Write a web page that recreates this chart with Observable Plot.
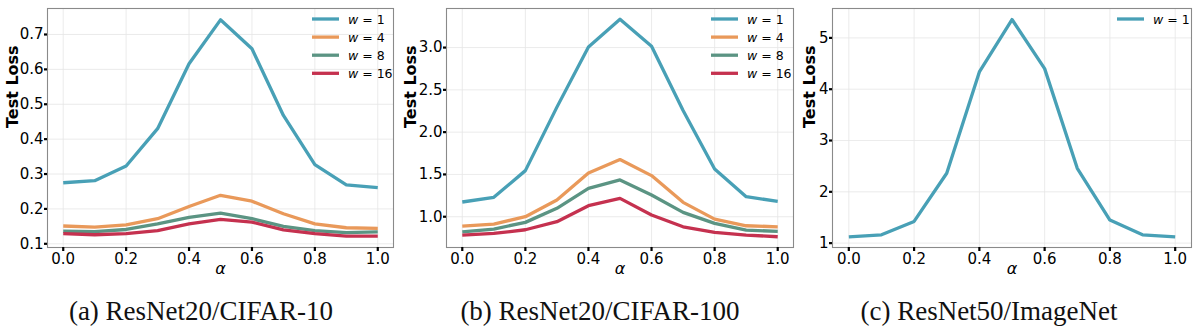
<!DOCTYPE html>
<html><head><meta charset="utf-8">
<script src="https://cdn.jsdelivr.net/npm/d3@7"></script>
<script src="https://cdn.jsdelivr.net/npm/@observablehq/plot@0.6"></script>
<style>
body{margin:0;background:#fff;}
#wrap{position:relative;width:1200px;height:330px;overflow:hidden;background:#fff;}
.panel{position:absolute;top:0;}
.legend{position:absolute;top:0;pointer-events:none;}
.cap{position:absolute;top:298px;font-family:"Liberation Serif","DejaVu Serif",serif;font-size:27px;line-height:1;white-space:nowrap;transform:translateX(-50%);color:#111;}
</style></head><body><div id="wrap"></div>
<script>
// ---- data ----
const alpha = [0.0, 0.1, 0.2, 0.3, 0.4, 0.5, 0.6, 0.7, 0.8, 0.9, 1.0];
const seriesLabels = ["w = 1", "w = 4", "w = 8", "w = 16"];
const seriesColors = ["#48a0b6", "#e9995a", "#5b9483", "#c5314f"];

const cifar10_w1  = [0.275, 0.281, 0.323, 0.430, 0.616, 0.742, 0.659, 0.468, 0.327, 0.269, 0.261];
const cifar10_w4  = [0.151, 0.148, 0.154, 0.172, 0.207, 0.239, 0.222, 0.186, 0.157, 0.146, 0.144];
const cifar10_w8  = [0.136, 0.135, 0.141, 0.157, 0.176, 0.188, 0.172, 0.150, 0.138, 0.132, 0.134];
const cifar10_w16 = [0.129, 0.126, 0.129, 0.138, 0.157, 0.170, 0.162, 0.140, 0.129, 0.122, 0.122];

const cifar100_w1  = [1.174, 1.229, 1.545, 2.296, 3.008, 3.336, 3.016, 2.257, 1.565, 1.237, 1.182];
const cifar100_w4  = [0.889, 0.913, 1.000, 1.198, 1.518, 1.676, 1.486, 1.170, 0.972, 0.893, 0.881];
const cifar100_w8  = [0.822, 0.854, 0.933, 1.099, 1.336, 1.435, 1.257, 1.051, 0.921, 0.842, 0.826];
const cifar100_w16 = [0.783, 0.802, 0.846, 0.941, 1.130, 1.217, 1.020, 0.881, 0.814, 0.783, 0.763];

const imagenet_w1 = [1.124, 1.163, 1.423, 2.362, 4.336, 5.358, 4.401, 2.459, 1.450, 1.163, 1.124];

const xTicks = [0.0, 0.2, 0.4, 0.6, 0.8, 1.0];
const yTicksA = [0.1, 0.2, 0.3, 0.4, 0.5, 0.6, 0.7];
const yTicksB = [1.0, 1.5, 2.0, 2.5, 3.0];
const yTicksC = [1, 2, 3, 4, 5];
const captions = ["(a) ResNet20/CIFAR-10", "(b) ResNet20/CIFAR-100", "(c) ResNet50/ImageNet"];
const xLabel = "α";
const yLabel = "Test Loss";

// ---- layout ----
const panels = [
  {left: 0, series: [cifar10_w1, cifar10_w4, cifar10_w8, cifar10_w16], yDomain: [0.0894, 0.7745], yTicks: yTicksA, fmt: ".1f",
   mL: 47, mR: 7, ylabDx: -35, legX: 312, capX: 201},
  {left: 400, series: [cifar100_w1, cifar100_w4, cifar100_w8, cifar100_w16], yDomain: [0.636, 3.462], yTicks: yTicksB, fmt: ".1f",
   mL: 46, mR: 7, ylabDx: -36, legX: 311, capX: 600},
  {left: 800, series: [imagenet_w1], yDomain: [0.915, 5.573], yTicks: yTicksC, fmt: "d",
   mL: 32, mR: 9, ylabDx: -23, legX: 317, capX: 989}
];

const W = 400, H = 285, mT = 8, mB = 38;
const wrap = document.getElementById("wrap");

panels.forEach((p, pi) => {
  const labels = seriesLabels.slice(0, p.series.length);
  const data = p.series.flatMap((vals, si) => alpha.map((a, i) => ({a, v: vals[i], w: labels[si]})));
  const chart = Plot.plot({
    width: W, height: H,
    marginLeft: p.mL, marginRight: p.mR, marginTop: mT, marginBottom: mB,
    style: {fontFamily: "DejaVu Sans, sans-serif", fontSize: "15px", color: "#000", background: "transparent", overflow: "visible"},
    x: {domain: [-0.05, 1.05]},
    y: {domain: p.yDomain},
    color: {domain: seriesLabels, range: seriesColors},
    marks: [
      Plot.gridX(xTicks, {stroke: "#e6e6e6", strokeOpacity: 1, strokeWidth: 0.8}),
      Plot.gridY(p.yTicks, {stroke: "#e6e6e6", strokeOpacity: 1, strokeWidth: 0.8}),
      Plot.line(data, {x: "a", y: "v", z: "w", stroke: "w", strokeWidth: 3.3, strokeLinejoin: "round", strokeLinecap: "butt"}),
      Plot.frame({stroke: "#8a8a8a", strokeWidth: 1.1}),
      Plot.axisX(xTicks, {tickFormat: d3.format(".1f"), tickSize: 4, tickPadding: 2, strokeWidth: 2.2, stroke: "#000", label: null, fontSize: 15}),
      Plot.axisY(p.yTicks, {tickFormat: d3.format(p.fmt), tickSize: 3, tickPadding: 1, strokeWidth: 2.2, stroke: "#000", label: null, fontSize: 15}),
      Plot.text([xLabel], {text: d => d, frameAnchor: "bottom", dy: 26, fontSize: 16, fontStyle: "italic", fill: "#000"}),
      Plot.text([yLabel], {text: d => d, frameAnchor: "left", rotate: -90, dx: p.ylabDx, fontSize: 16, fontWeight: "bold", fill: "#000"})
    ]
  });
  chart.classList.add("panel");
  chart.style.left = p.left + "px";
  wrap.appendChild(chart);

  // legend overlay
  const leg = d3.select(wrap).append("svg")
    .attr("class", "legend")
    .attr("width", W).attr("height", 100)
    .style("left", p.left + "px");
  labels.forEach((lab, i) => {
    const y = 19 + i * 18.1;
    leg.append("line").attr("x1", p.legX).attr("x2", p.legX + 27).attr("y1", y).attr("y2", y)
      .attr("stroke", seriesColors[i]).attr("stroke-width", 3.3);
    const t = leg.append("text").attr("x", p.legX + 36).attr("y", y).attr("dy", "0.36em")
      .attr("font-family", "DejaVu Sans, sans-serif").attr("font-size", 12.5).attr("fill", "#000");
    const [w, rest] = [lab.slice(0, 1), lab.slice(1)];
    t.append("tspan").attr("font-style", "italic").text(w);
    t.append("tspan").text(rest);
  });

  const cap = document.createElement("div");
  cap.className = "cap";
  cap.style.left = p.capX + "px";
  cap.textContent = captions[pi];
  wrap.appendChild(cap);
});
</script>
</body></html>
